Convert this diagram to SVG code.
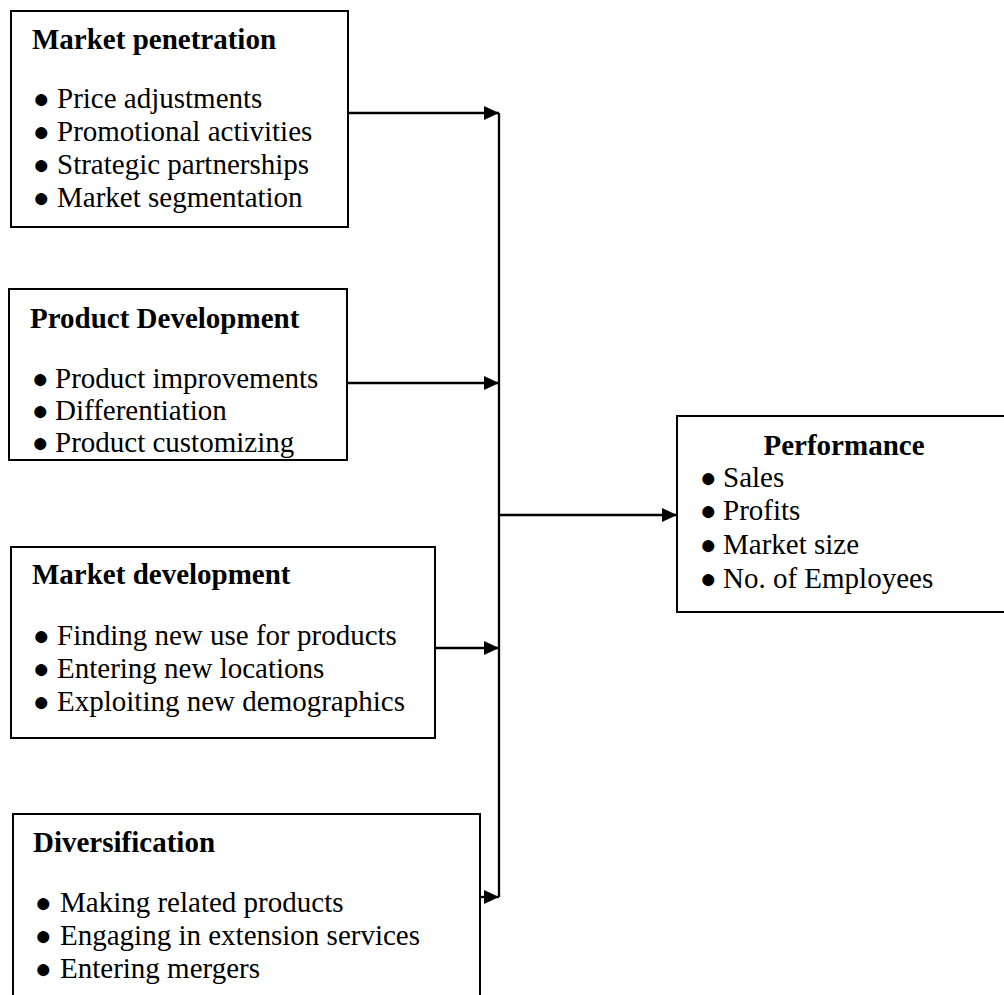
<svg xmlns="http://www.w3.org/2000/svg" width="1004" height="995" viewBox="0 0 1004 995">
<style>
.box{fill:#fff;stroke:#000;stroke-width:2}
text{font-family:"Liberation Serif","Times New Roman",serif;font-size:29px;fill:#000}
.t{font-weight:bold}
.b{font-size:28px}
.ln{stroke:#000;stroke-width:2.3;fill:none}
</style>
<defs>
<marker id="ah" viewBox="0 0 15 14" refX="15" refY="7" markerWidth="15" markerHeight="14" markerUnits="userSpaceOnUse" orient="auto">
<path d="M0,0 L15,7 L0,14 Z" fill="#000"/>
</marker>
</defs>
<rect width="1004" height="995" fill="#fff"/>
<g id="connectors">
<path class="ln" d="M499,113 V897"/>
<path class="ln" d="M348,113 H499" marker-end="url(#ah)"/>
<path class="ln" d="M347,383 H499" marker-end="url(#ah)"/>
<path class="ln" d="M435,648 H499" marker-end="url(#ah)"/>
<path class="ln" d="M481,897 H499" marker-end="url(#ah)"/>
<path class="ln" d="M499,515 H677" marker-end="url(#ah)"/>
</g>
<g id="market-penetration">
<rect class="box" x="11" y="11" width="337" height="216"/>
<text class="t" x="32" y="49">Market penetration</text>
<text x="33" y="108"><tspan class="b">●</tspan><tspan x="57">Price adjustments</tspan></text>
<text x="33" y="141"><tspan class="b">●</tspan><tspan x="57">Promotional activities</tspan></text>
<text x="33" y="174"><tspan class="b">●</tspan><tspan x="57">Strategic partnerships</tspan></text>
<text x="33" y="207"><tspan class="b">●</tspan><tspan x="57">Market segmentation</tspan></text>
</g>
<g id="product-development">
<rect class="box" x="9" y="289" width="338" height="171"/>
<text class="t" x="30" y="328">Product Development</text>
<text x="32" y="388"><tspan class="b">●</tspan><tspan x="55">Product improvements</tspan></text>
<text x="32" y="420"><tspan class="b">●</tspan><tspan x="55">Differentiation</tspan></text>
<text x="32" y="452"><tspan class="b">●</tspan><tspan x="55">Product customizing</tspan></text>
</g>
<g id="market-development">
<rect class="box" x="11" y="547" width="424" height="191"/>
<text class="t" x="32" y="584">Market development</text>
<text x="33" y="645"><tspan class="b">●</tspan><tspan x="57">Finding new use for products</tspan></text>
<text x="33" y="678"><tspan class="b">●</tspan><tspan x="57">Entering new locations</tspan></text>
<text x="33" y="711"><tspan class="b">●</tspan><tspan x="57">Exploiting new demographics</tspan></text>
</g>
<g id="diversification">
<rect class="box" x="13" y="814" width="467" height="200"/>
<text class="t" x="33" y="852">Diversification</text>
<text x="35" y="912"><tspan class="b">●</tspan><tspan x="60">Making related products</tspan></text>
<text x="35" y="945"><tspan class="b">●</tspan><tspan x="60">Engaging in extension services</tspan></text>
<text x="35" y="978"><tspan class="b">●</tspan><tspan x="60">Entering mergers</tspan></text>
</g>
<g id="performance">
<rect class="box" x="677" y="416" width="340" height="196"/>
<text class="t" x="844" y="455" text-anchor="middle">Performance</text>
<text x="700" y="487"><tspan class="b">●</tspan><tspan x="723">Sales</tspan></text>
<text x="700" y="520"><tspan class="b">●</tspan><tspan x="723">Profits</tspan></text>
<text x="700" y="554"><tspan class="b">●</tspan><tspan x="723">Market size</tspan></text>
<text x="700" y="588"><tspan class="b">●</tspan><tspan x="723">No. of Employees</tspan></text>
</g>
</svg>
